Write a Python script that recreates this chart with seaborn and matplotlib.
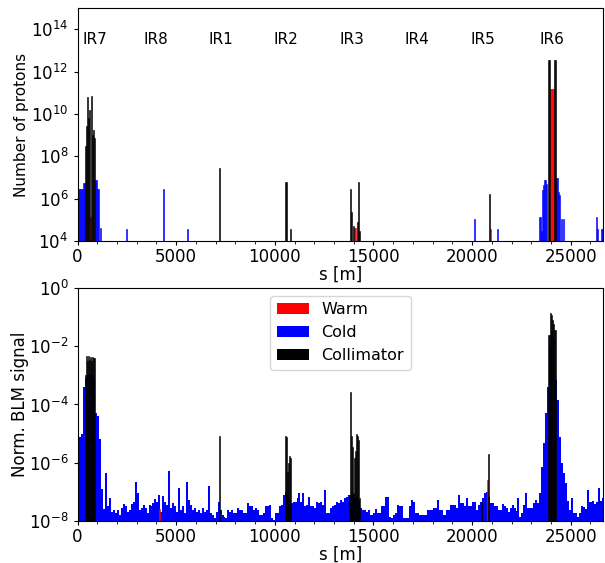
import matplotlib
matplotlib.use("Agg")
import matplotlib.pyplot as plt
import seaborn as sns
import numpy as np
from matplotlib.patches import Patch
from matplotlib.ticker import FixedLocator, MultipleLocator, NullLocator, LogFormatterSciNotation

RING_LENGTH = 26659.0

# Interaction regions (label centres, s in m)
ir_labels = ["IR7", "IR8", "IR1", "IR2", "IR3", "IR4", "IR5", "IR6"]
ir_pos = [860, 3980, 7280, 10570, 13900, 17220, 20540, 24040]

# ---- top panel: number of lost protons (50 m bins) ----
cold_top_s = [25, 75, 125, 175, 225, 275, 325, 375, 925, 975, 1025, 1075, 1175,
              2475, 4375, 5575, 20125, 21275,
              23425, 23475, 23525, 23575, 23625, 23675, 23725, 23775,
              24275, 24325, 24375, 24425, 24525, 24625,
              26325, 26375, 26575, 26625]
cold_top_n = [3e6, 3e6, 3e6, 3e6, 3e6, 3e6, 5.4e6, 5.4e6, 8e6, 8e6, 3e6, 3e6, 4e4,
              3.5e4, 2.9e6, 3.5e4, 1.1e5, 3.5e4,
              1.4e5, 1.4e5, 3e4, 2.6e6, 4.5e6, 7.8e6, 7.8e6, 5e6,
              9e6, 9e6, 2e6, 1.5e6, 1.1e5, 1.1e5,
              1.4e5, 3.5e4, 3.5e4, 3.5e4]

coll_top_s = [425, 475, 525, 575, 625, 725, 775, 825, 875,
              7175, 10525, 10575, 10775,
              13825, 13875, 13975, 14175, 14225, 14275,
              20875, 23875, 23925, 24175, 24225]
coll_top_n = [3e8, 2.6e9, 6.5e10, 6.5e9, 1.6e10, 7e10, 1e9, 1.8e9, 7.4e8,
              2.7e7, 5.8e6, 5.8e6, 3.5e4,
              2.9e6, 2.3e5, 5e4, 8e4, 6e6, 3e4,
              1.7e6, 3.4e12, 3.4e12, 3.4e12, 3.4e12]

warm_top_s = [675, 14025, 14075, 20925, 23975, 24025, 24075, 24125]
warm_top_n = [1.4e5, 4.3e4, 4.3e4, 3.5e4, 1.5e11, 1.5e11, 1.5e11, 1.5e11]

# ---- bottom panel: normalised BLM signal ----
# cold magnets, log10 of the signal in 100 m bins starting at s = 0
cold_blm_log = [
    -5.3, -5.1, -5.0, -3.4, -3.1, -3.0, -3.0, -3.0, -3.1, -4.3,
    -4.4, -5.2, -6.9, -7.6, -6.36, -7.5, -7.2, -7.68, -7.62, -7.74,
    -7.62, -7.8, -7.57, -7.4, -7.5, -7.68, -7.62, -7.4, -7.34, -6.67,
    -7.05, -7.62, -7.57, -7.45, -7.57, -7.74, -7.45, -7.5, -7.39, -7.26,
    -7.34, -7.1, -7.68, -7.14, -7.34, -7.45, -6.3, -7.57, -7.39, -7.5,
    -7.7, -6.85, -7.62, -7.5, -7.74, -6.65, -7.28, -7.45, -7.62, -7.57,
    -7.68, -7.62, -7.74, -7.57, -7.68, -7.62, -6.8, -7.74, -7.8, -7.9,
    -7.68, -7.34, -7.62, -7.8, -7.85, -7.9, -7.62, -7.68, -7.62, -7.74,
    -7.74, -7.57, -7.62, -7.62, -7.74, -7.74, -7.39, -7.5, -7.5, -7.62,
    -7.57, -7.62, -7.8, -7.8, -7.74, -7.5, -7.5, -7.45, -7.9, -7.95,
    -7.74, -7.74, -7.5, -7.45, -7.1, -7.0, -7.1, -7.28, -7.39, -7.34,
    -7.34, -7.22, -7.05, -7.34, -7.05, -7.5, -7.45, -7.16, -7.5, -7.5,
    -7.57, -7.34, -7.39, -7.34, -7.45, -6.93, -7.74, -7.74, -7.57, -7.5,
    -7.45, -7.34, -7.39, -7.28, -7.34, -7.22, -7.16, -7.1, -7.16, -7.1,
    -7.2, -7.16, -7.3, -7.57, -7.62, -7.62, -7.68, -7.62, -7.8, -7.8,
    -7.74, -7.6, -7.74, -7.74, -7.5, -7.5, -7.16, -7.16, -7.85, -7.88,
    -7.8, -7.74, -7.45, -7.5, -7.5, -7.9, -7.9, -7.9, -7.5, -7.28,
    -7.34, -7.74, -7.74, -7.8, -7.8, -7.8, -7.8, -7.62, -7.62, -7.62,
    -7.57, -7.57, -7.28, -7.62, -7.62, -7.8, -7.8, -7.62, -7.62, -7.45,
    -7.45, -7.45, -7.57, -7.1, -7.39, -7.39, -7.5, -7.22, -7.5, -7.5,
    -7.34, -7.34, -7.62, -7.45, -7.34, -7.22, -7.05, -7.0, -7.16, -7.39,
    -7.39, -7.5, -7.5, -7.62, -7.62, -7.4, -7.5, -7.57, -7.7, -7.57,
    -7.45, -7.57, -7.65, -7.22, -7.85, -7.74, -7.45, -7.05, -7.57, -7.57,
    -7.57, -7.39, -7.28, -7.39, -7.05, -6.13, -5.33, -4.3, -3.4, -2.0,
    -1.5, -1.8, -3.15, -3.84, -5.1, -6.02, -6.36, -6.7, -7.3, -7.62,
    -7.22, -7.74, -7.74, -7.85, -7.74, -7.5, -7.51, -7.6, -6.93, -7.34,
    -7.34, -7.3, -7.4, -7.34, -6.88, -7.3, -7.2,
]

coll_blm_s = [425, 475, 525, 575, 625, 675, 725, 775, 825, 875,
              7175, 10525, 10575, 10625, 10675, 10725, 10775,
              13775, 13825, 13875, 13925, 13975, 14025, 14075, 14125, 14175, 14225, 14275,
              20475, 20825,
              23875, 23925, 23975, 24025, 24075, 24125, 24175, 24225]
coll_blm_v = [1e-3, 4.5e-3, 3e-3, 4.5e-3, 3.5e-3, 4.2e-3, 3e-3, 4.3e-3, 3.8e-3, 4e-3,
              8e-6, 8e-6, 7.5e-6, 5e-7, 1e-6, 1.7e-6, 1.5e-6,
              8e-8, 2.6e-4, 8e-6, 3.5e-6, 9e-8, 1.5e-6, 2.5e-6, 1e-5, 8e-6, 6e-6, 6e-8,
              4.5e-8, 2e-6,
              2.5e-2, 2.5e-2, 0.14, 0.12, 8e-2, 6e-2, 3.6e-2, 3.6e-2]

warm_blm_s = [4175, 20775, 24075]
warm_blm_v = [2.5e-8, 2.5e-7, 1.5e-2]

COLORS = {"Warm": "red", "Cold": "blue", "Collimator": "black"}


def draw_layer(ax, s, w, color, binwidth, lw=0.0):
    sns.histplot(x=s, weights=w, binwidth=binwidth, binrange=(0, 26700),
                 color=color, alpha=1, linewidth=lw, edgecolor=color, ax=ax)


def style_axis(ax, ylim, yticks, ylabel, ylabel_size):
    ax.set_xlim(0, RING_LENGTH)
    ax.set_ylim(*ylim)
    ax.xaxis.set_major_locator(MultipleLocator(5000))
    ax.xaxis.set_minor_locator(MultipleLocator(1000))
    ax.yaxis.set_major_locator(FixedLocator(yticks))
    ax.yaxis.set_major_formatter(LogFormatterSciNotation())
    ax.yaxis.set_minor_locator(NullLocator())
    ax.tick_params(axis="both", which="major", labelsize=12, direction="out", length=3)
    ax.tick_params(axis="x", which="major", pad=2)
    ax.tick_params(axis="x", which="minor", direction="out", length=2.5)
    ax.set_xlabel("s [m]", fontsize=12, labelpad=0)
    ax.set_ylabel(ylabel, fontsize=ylabel_size)
    ax.yaxis.set_label_coords(-0.092, 0.5)


def main():
    fig = plt.figure(figsize=(6.05, 5.63), dpi=100)
    ax1 = fig.add_axes([0.1281, 0.5719, 0.8694, 0.4139])
    ax2 = fig.add_axes([0.1281, 0.0746, 0.8694, 0.4139])

    # top: lost protons
    ax1.set_yscale("log")
    draw_layer(ax1, cold_top_s, cold_top_n, COLORS["Cold"], 50, 0.4)
    draw_layer(ax1, warm_top_s, warm_top_n, COLORS["Warm"], 50, 0.4)
    draw_layer(ax1, coll_top_s, coll_top_n, COLORS["Collimator"], 50, 0.4)
    style_axis(ax1, (1e4, 1e15), [1e4, 1e6, 1e8, 1e10, 1e12, 1e14],
               "Number of protons", 11)
    for lab, pos in zip(ir_labels, ir_pos):
        ax1.text(pos, 3.4e13, lab, ha="center", va="center", fontsize=11)

    # bottom: BLM signal
    cold_blm_s = np.arange(len(cold_blm_log)) * 100 + 50
    cold_blm_v = 10.0 ** np.array(cold_blm_log)
    ax2.set_yscale("log")
    draw_layer(ax2, cold_blm_s, cold_blm_v, COLORS["Cold"], 100)
    draw_layer(ax2, warm_blm_s, warm_blm_v, COLORS["Warm"], 50, 0.4)
    draw_layer(ax2, coll_blm_s, coll_blm_v, COLORS["Collimator"], 50, 0.4)
    style_axis(ax2, (1e-8, 1), [1e-8, 1e-6, 1e-4, 1e-2, 1],
               "Norm. BLM signal", 12)

    handles = [Patch(facecolor=COLORS[k], edgecolor="none", label=k)
               for k in ["Warm", "Cold", "Collimator"]]
    ax2.legend(handles=handles, loc="upper center", fontsize=11.5)

    fig.savefig("out.png", dpi=100)
    plt.close(fig)


if __name__ == "__main__":
    main()
